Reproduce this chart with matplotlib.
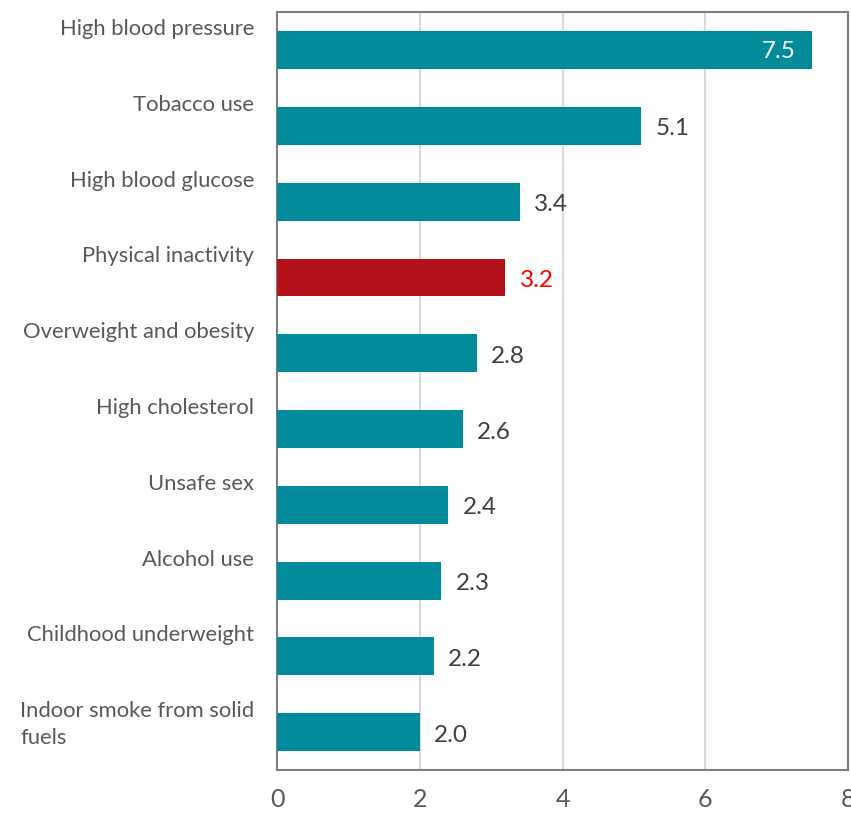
import matplotlib.pyplot as plt
from matplotlib import transforms

plt.rcParams['font.family'] = ['Lato', 'DejaVu Sans']

# fatores de risco e valores (percentual de mortes)
categorias = ["High blood pressure", "Tobacco use", "High blood glucose",
              "Physical inactivity", "Overweight and obesity", "High cholesterol",
              "Unsafe sex", "Alcohol use", "Childhood underweight",
              "Indoor smoke from solid\nfuels"]
valores = [7.5, 5.1, 3.4, 3.2, 2.8, 2.6, 2.4, 2.3, 2.2, 2.0]
destaque = "Physical inactivity"
xticks = [0, 2, 4, 6, 8]

teal = '#028C9B'
vermelho = '#B5111A'
cinza_txt = '#595959'

fig = plt.figure(figsize=(8.51, 8.14), dpi=100)
ax = fig.add_axes([0.3255, 0.054, 0.671, 0.931])

pos = list(range(len(categorias)))
cores = [vermelho if c == destaque else teal for c in categorias]
ax.barh(pos, valores, height=0.5, color=cores, zorder=3)

ax.set_xlim(0, 8)
ax.set_ylim(len(categorias) - 0.5, -0.5)
ax.set_xticks(xticks)
ax.set_xticklabels([str(t) for t in xticks], fontsize=18, color=cinza_txt)
ax.tick_params(axis='x', length=0, pad=13)
ax.set_yticks([])
ax.grid(axis='x', color='#d9d9d9', linewidth=1.5, zorder=0)
for s in ax.spines.values():
    s.set_color('#7f7f7f')
    s.set_linewidth(1.5)

# rotulos das categorias, acima do centro da barra
trans = transforms.blended_transform_factory(ax.transAxes, ax.transData)
for i, c in enumerate(categorias):
    ax.text(-0.04, i - 0.41, c, transform=trans, ha='right', va='top',
            multialignment='left', linespacing=1.45, fontsize=15.8, color=cinza_txt)

# valores
for i, (c, v) in enumerate(zip(categorias, valores)):
    if v > 7:
        ax.text(v - 0.24, i + 0.02, f"{v:.1f}", ha='right', va='center',
                fontsize=17.5, color='white', zorder=4)
    else:
        cor = '#FF0000' if c == destaque else '#404040'
        ax.text(v + 0.2, i + 0.04, f"{v:.1f}", ha='left', va='center',
                fontsize=17.5, color=cor, zorder=4)

plt.savefig("out.png", dpi=100)
